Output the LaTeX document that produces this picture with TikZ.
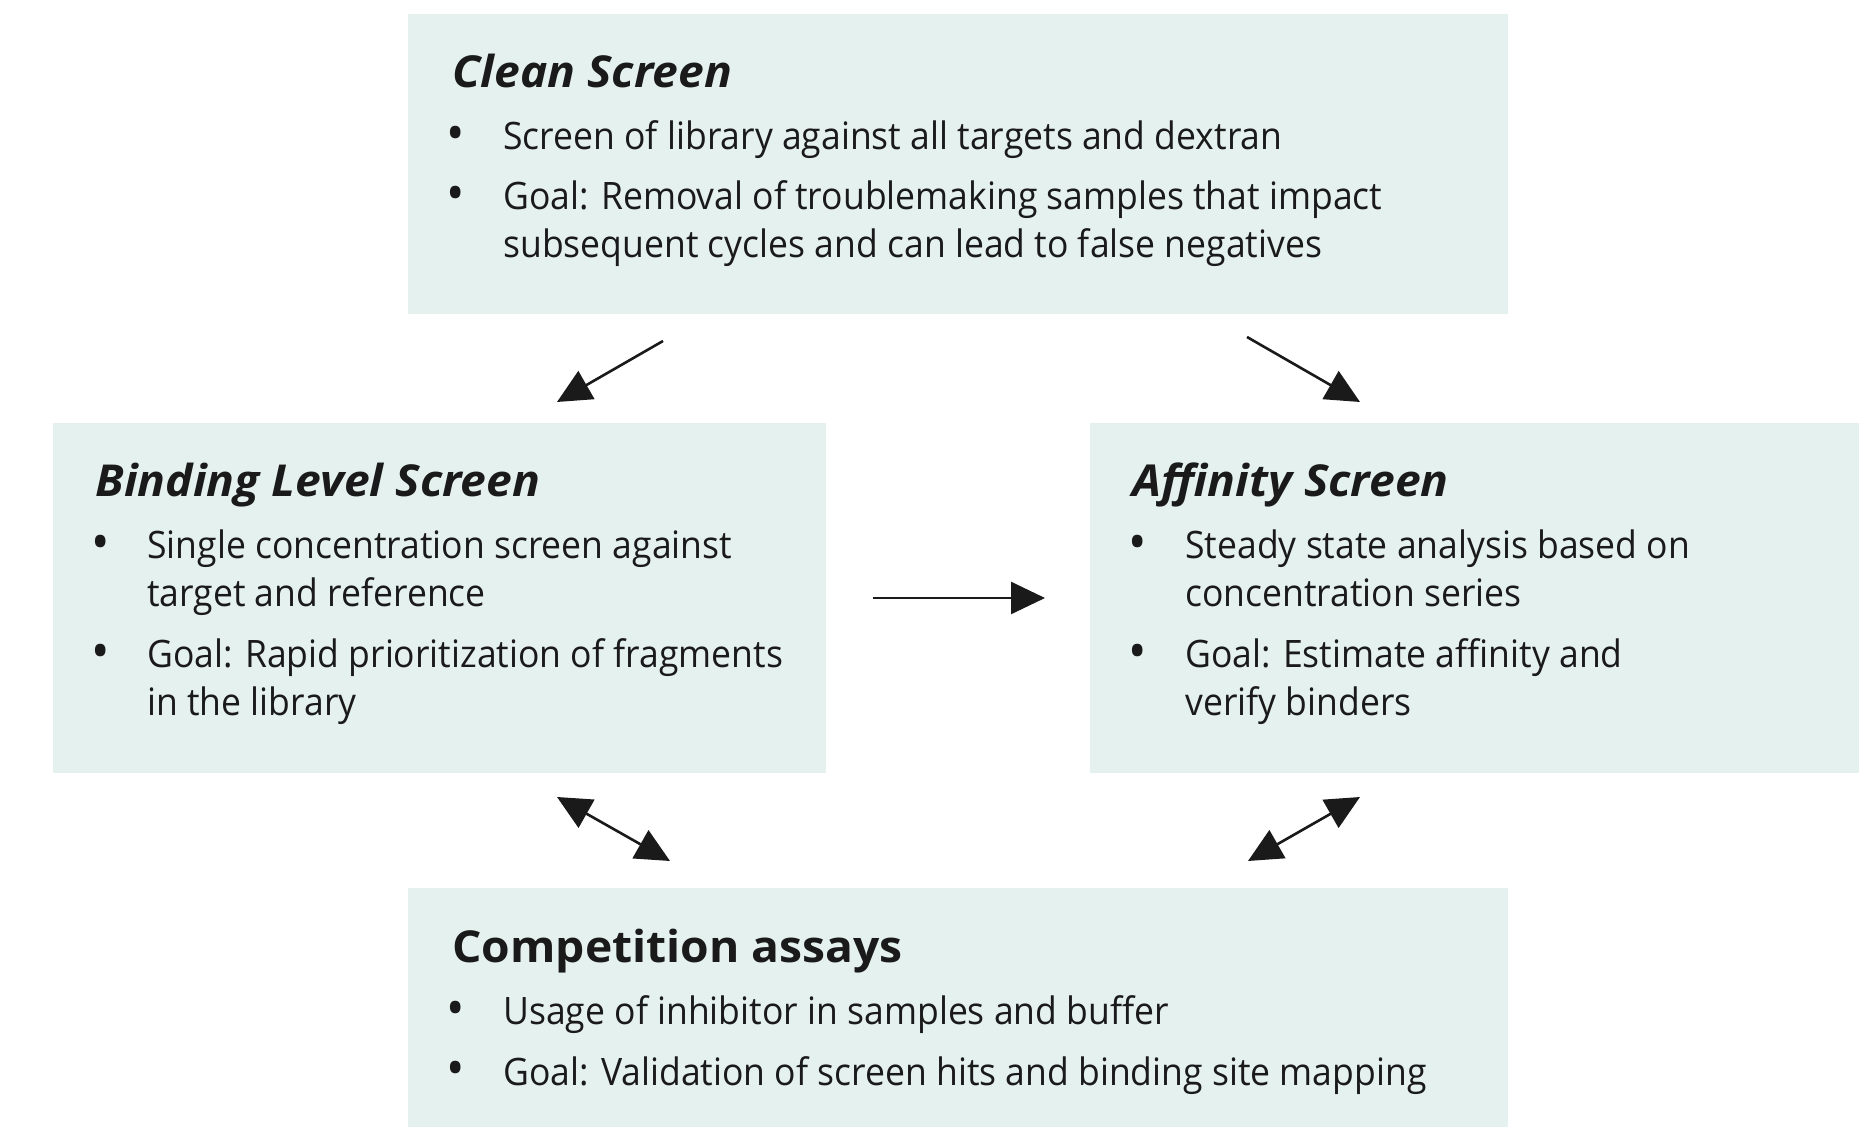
\documentclass[tikz,border=0pt]{standalone}
\usepackage{fontspec}
\setmainfont{Open Sans}[FakeStretch=0.94]
\newfontfamily\ttlfont{Open Sans}[FakeStretch=1.05]
\usetikzlibrary{arrows.meta,fit}
\definecolor{boxfill}{HTML}{E5F1EE}
\definecolor{ink}{HTML}{1A1A1A}
\begin{document}
\begin{tikzpicture}[x=0.5pt,y=-0.5pt,
  panel/.style={fill=boxfill, draw=none, inner sep=0pt, outer sep=0pt},
  ttl/.style={anchor=base west, inner sep=0pt, font=\ttlfont\fontsize{22}{24}\selectfont\bfseries\itshape, text=ink},
  body/.style={anchor=base west, inner sep=0pt, font=\fontsize{18.9}{24}\selectfont, text=ink},
  bul/.style={anchor=base, inner sep=0pt, font=\fontsize{26}{24}\selectfont, text=ink},
  tip/.tip={Triangle[length=17pt,width=16pt]},
  arr/.style={draw=ink, line width=1.3pt, -tip},
  darr/.style={draw=ink, line width=1.3pt, tip-tip}
]
\useasboundingbox (0,0) rectangle (1859,1127);
\fill[white] (0,0) rectangle (1859,1127);

% panels
\node[panel, fit={(408,14) (1508,314)}] (clean) {};
\node[panel, fit={(53,423) (826,773)}] (binding) {};
\node[panel, fit={(1090,423) (1859,773)}] (affinity) {};
\node[panel, fit={(408,888) (1508,1127)}] (comp) {};

% Clean Screen
\node[ttl] (cleanT) at (452,88) {Clean Screen};
\node[bul] (cleanB1) at (456,152) {•};
\node[body] (cleanL1) at (503,150) {Screen of library against all targets and dextran};
\node[bul] (cleanB2) at (456,212) {•};
\node[body] (cleanL2) at (503,210) {Goal: Removal of troublemaking samples that impact};
\node[body] (cleanL3) at (503,258) {subsequent cycles and can lead to false negatives};

% Binding Level Screen
\node[ttl] (bindT) at (95,497) {Binding Level Screen};
\node[bul] (bindB1) at (101,561) {•};
\node[body] (bindL1) at (147,559) {Single concentration screen against};
\node[body] (bindL2) at (147,607) {target and reference};
\node[bul] (bindB2) at (101,670) {•};
\node[body] (bindL3) at (147,668) {Goal: Rapid prioritization of fragments};
\node[body] (bindL4) at (147,716) {in the library};

% Affinity Screen
\node[ttl] (affT) at (1132,497) {Affinity Screen};
\node[bul] (affB1) at (1138,561) {•};
\node[body] (affL1) at (1185,559) {Steady state analysis based on};
\node[body] (affL2) at (1185,607) {concentration series};
\node[bul] (affB2) at (1138,670) {•};
\node[body] (affL3) at (1185,668) {Goal: Estimate affinity and};
\node[body] (affL4) at (1185,716) {verify binders};

% Competition assays
\node[ttl, font=\ttlfont\fontsize{22}{24}\selectfont\bfseries] (compT) at (452,963) {Competition assays};
\node[bul] (compB1) at (456,1026) {•};
\node[body] (compL1) at (503,1024) {Usage of inhibitor in samples and buffer};
\node[bul] (compB2) at (456,1087) {•};
\node[body] (compL2) at (503,1085) {Goal: Validation of screen hits and binding site mapping};

% connector end points
\coordinate (a1s) at (663,341);
\coordinate (a1e) at (557,402);
\coordinate (a2s) at (1247,337);
\coordinate (a2e) at (1360,402);
\coordinate (a3s) at (873,598);
\coordinate (a3e) at (1045,598);
\coordinate (a4s) at (557,797);
\coordinate (a4e) at (670,861);
\coordinate (a5s) at (1360,797);
\coordinate (a5e) at (1248,861);

\draw[arr] (a1s) -- (a1e);
\draw[arr] (a2s) -- (a2e);
\draw[arr] (a3s) -- (a3e);
\draw[darr] (a4s) -- (a4e);
\draw[darr] (a5s) -- (a5e);
\end{tikzpicture}
\end{document}
